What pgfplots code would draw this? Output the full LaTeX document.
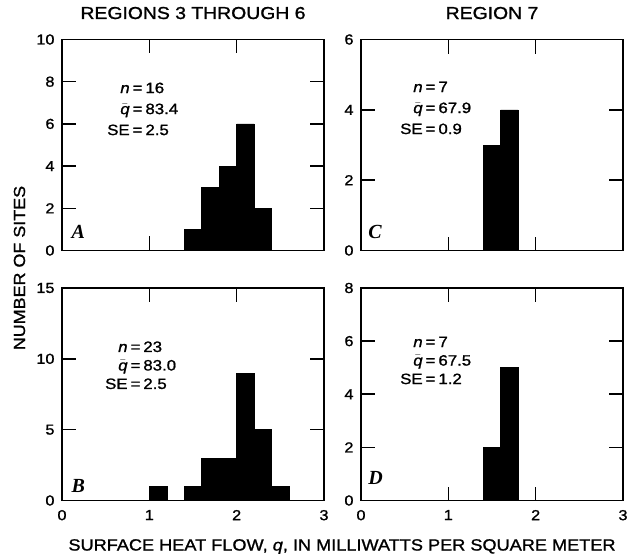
\documentclass[border=0pt]{standalone}
\usepackage{fontspec}
\setmainfont{Liberation Sans}[FakeStretch=1.12, FakeBold=1.2]
\newfontfamily\letterfont{Liberation Serif}
\usepackage{pgfplots}
\pgfplotsset{compat=1.18}

\newcommand{\qbar}{$\bar{\mbox{\textit{q}}}$}
\newcommand{\stats}[4]{%
  \begin{tabular}[t]{@{}r@{\hspace{3pt}=\hspace{3pt}}l@{}}
    \textit{n} & #1\\[#4]
    \qbar & #2\\[#4]
    SE & #3
  \end{tabular}}

\tikzset{
  letter/.style={anchor=base west, inner sep=0pt, font=\fontsize{20}{22}\selectfont\letterfont\bfseries\itshape},
  stat/.style={anchor=base west, inner sep=0pt, font=\fontsize{15}{17}\selectfont},
}

\pgfplotsset{
  panel/.style={
    scale only axis,
    width=262pt,
    xmin=0, xmax=3, ymin=0,
    xtick={0,1,2,3},
    tick align=inside,
    xtick pos=both, ytick pos=both,
    yticklabel pos=left, xticklabel pos=lower,
    major tick length=14pt,
    axis line style={line width=1.8pt, black},
    tick style={line width=1.6pt, black},
    tick label style={font=\fontsize{14.5}{16}\selectfont},
    yticklabel style={xshift=-4pt},
    xticklabel style={yshift=-6pt},
    /pgf/number format/assume math mode=true,
    title style={at={(0.5,1)}, anchor=base, yshift=14.5pt, inner sep=0pt,
                 font=\fontsize{17.3}{20}\selectfont},
  },
  bars/.style={ybar interval, fill=black, draw=black, line width=0.5pt},
}

\begin{document}
\begin{tikzpicture}[x=1pt, y=1pt]
\useasboundingbox (0,0) rectangle (636,555);

% A: regions 3 through 6
\begin{axis}[panel, at={(62pt,304.5pt)}, anchor=south west, height=211pt,
  ymax=10, ytick={0,2,...,10}, xticklabels={},
  title={REGIONS 3 THROUGH 6}]
\addplot[bars] coordinates {(1.4,1) (1.6,3) (1.8,4) (2.0,6) (2.2,2) (2.4,0)};
\node[letter] at (rel axis cs:0.036,0.055) {A};
\node[stat] at (rel axis cs:0.172,0.746) {\stats{16}{83.4}{2.5}{4pt}};
\end{axis}

% C: region 7
\begin{axis}[panel, at={(361pt,304.5pt)}, anchor=south west, height=211pt,
  ymax=6, ytick={0,2,4,6}, xticklabels={},
  title={REGION 7}]
\addplot[bars] coordinates {(1.4,3) (1.6,4) (1.8,0)};
\node[letter] at (rel axis cs:0.027,0.059) {C};
\node[stat] at (rel axis cs:0.149,0.751) {\stats{7}{67.9}{0.9}{4pt}};
\end{axis}

% B
\begin{axis}[panel, at={(62pt,54.5pt)}, anchor=south west, height=212.5pt,
  ymax=15, ytick={0,5,10,15}]
\addplot[bars] coordinates {(1.0,1) (1.2,0) (1.4,1) (1.6,3) (1.8,3) (2.0,9) (2.2,5) (2.4,1) (2.6,0)};
\node[letter] at (rel axis cs:0.036,0.04) {B};
\node[stat] at (rel axis cs:0.164,0.699) {\stats{23}{83.0}{2.5}{1.5pt}};
\end{axis}

% D
\begin{axis}[panel, at={(361pt,54.5pt)}, anchor=south west, height=212.5pt,
  ymax=8, ytick={0,2,...,8}]
\addplot[bars] coordinates {(1.4,2) (1.6,5) (1.8,0)};
\node[letter] at (rel axis cs:0.027,0.073) {D};
\node[stat] at (rel axis cs:0.149,0.722) {\stats{7}{67.5}{1.2}{1.5pt}};
\end{axis}

\node[anchor=base, inner sep=0pt, rotate=90, font=\fontsize{16}{18}\selectfont]
  at (25,287) {NUMBER OF SITES};
\node[anchor=base, inner sep=0pt, font=\fontsize{16.2}{18}\selectfont]
  at (342,4.5) {SURFACE HEAT FLOW, \textit{q}, IN MILLIWATTS PER SQUARE METER};
\end{tikzpicture}
\end{document}
